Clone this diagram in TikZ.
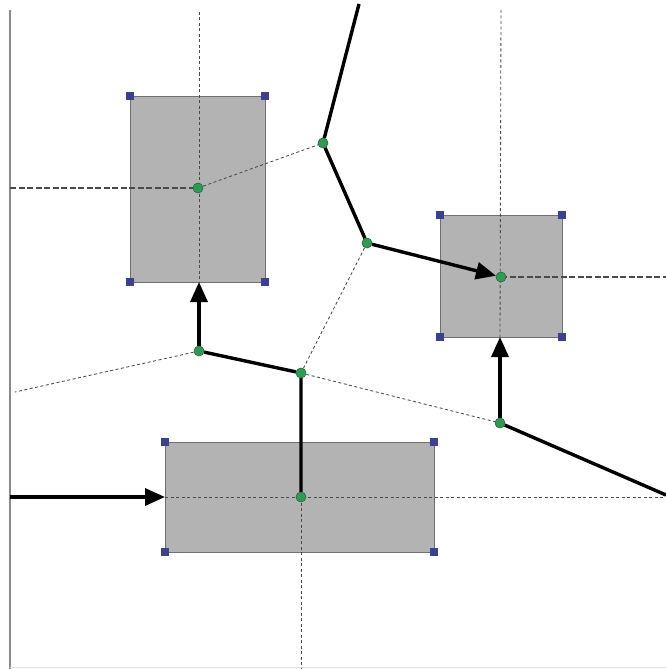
\documentclass[tikz,border=0pt]{standalone}
\usetikzlibrary{arrows.meta}
\definecolor{boxgray}{HTML}{B3B3B3}
\definecolor{boxedge}{HTML}{707070}
\definecolor{handleblue}{HTML}{3C4090}
\definecolor{sitegreen}{HTML}{2F9A52}
\definecolor{guidegray}{HTML}{4A4A4A}
\definecolor{framegray}{HTML}{8A8A8A}
\begin{document}
\begin{tikzpicture}[x=1pt,y=-1pt,
  box/.style={rectangle, fill=boxgray, draw=boxedge, line width=0.8pt, inner sep=0pt, outer sep=0pt},
  handle/.style={rectangle, fill=handleblue, minimum size=8.5pt, inner sep=0pt},
  site/.style={circle, fill=sitegreen, draw=sitegreen!70!black, line width=0.4pt, minimum size=10pt, inner sep=0pt},
  guide/.style={draw=guidegray, line width=0.85pt, dash pattern=on 3pt off 2.5pt},
  axis/.style={draw=guidegray, line width=1.7pt, dash pattern=on 6pt off 2.5pt},
  edge/.style={draw=black, line width=3.4pt},
  flow/.style={edge, -{Triangle[length=20pt,width=17pt]}}]
\useasboundingbox (0,0) rectangle (666,669);

% frame lines
\draw[framegray, line width=1.2pt] (10,10) -- (10,669);
\draw[black!12, line width=1pt] (10,667) -- (666,667);

% obstacles
\node[box, minimum width=135pt, minimum height=186pt] (r1) at (197.5,189) {};
\node[box, minimum width=122pt, minimum height=122pt] (r2) at (501,276) {};
\node[box, minimum width=269pt, minimum height=110pt] (r3) at (299.5,497) {};

% centre points and Voronoi vertices
\coordinate (c1) at (198,188);
\coordinate (c2) at (501,277);
\coordinate (c3) at (301,497);
\coordinate (vA) at (323,143);
\coordinate (vB) at (367,243);
\coordinate (vC) at (199,351);
\coordinate (vD) at (301,373);
\coordinate (vE) at (500,423);
\coordinate (topA) at (359,4);
\coordinate (leftC) at (15,392);
\coordinate (rightE) at (666,495);
\coordinate (inlet) at (10,497);
\coordinate (r1top) at (199,12);
\coordinate (r1left) at (10,188);
\coordinate (r2top) at (501,10);
\coordinate (r2right) at (666,277);
\coordinate (r3right) at (666,497);
\coordinate (r3bottom) at (301,669);
\coordinate (r1in) at (199,282);
\coordinate (r2in) at (500,337);

% guide lines through the centres
\draw[guide] (r1top) -- (r1in);
\draw[axis] (r1left) -- (c1);
\draw[guide] (r2top) -- (r2in);
\draw[axis] (c2) -- (r2right);
\draw[guide] (r3.west) -- (r3right);
\draw[guide] (c3) -- (r3bottom);

% Delaunay-style dashed links
\draw[guide] (c1) -- (vA);
\draw[guide] (vB) -- (vD);
\draw[guide] (vC) -- (leftC);
\draw[guide] (vD) -- (vE);

% corner handles
\foreach \r in {r1,r2,r3}{
  \node[handle] at (\r.north west) {};
  \node[handle] at (\r.north east) {};
  \node[handle] at (\r.south west) {};
  \node[handle] at (\r.south east) {};
}

% green markers
\node[site] (s1) at (c1) {};
\node[site] (s2) at (c2) {};
\node[site] (s3) at (c3) {};
\node[site] (nA) at (vA) {};
\node[site] (nB) at (vB) {};
\node[site] (nC) at (vC) {};
\node[site] (nD) at (vD) {};
\node[site] (nE) at (vE) {};

% roadmap edges
\draw[edge] (topA) -- (nA) -- (nB);
\draw[flow] (nB) -- (s2);
\draw[flow] (nC) -- (r1in);
\draw[edge] (nC) -- (nD) -- (s3);
\draw[flow] (nE) -- (r2in);
\draw[edge] (nE) -- (rightE);
\draw[flow] (inlet) -- (r3.west);

% redraw markers above the edges
\node[site] at (c1) {};
\node[site] at (c2) {};
\node[site] at (c3) {};
\node[site] at (vA) {};
\node[site] at (vB) {};
\node[site] at (vC) {};
\node[site] at (vD) {};
\node[site] at (vE) {};
\end{tikzpicture}
\end{document}
